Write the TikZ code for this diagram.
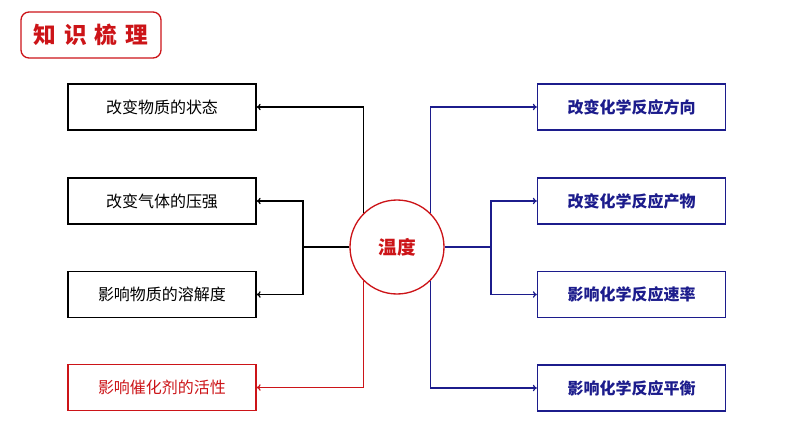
\documentclass[tikz,border=0pt]{standalone}
\usepackage{fontspec}
\newfontfamily\cjk{Noto Sans CJK SC}
\usetikzlibrary{arrows.meta}
\definecolor{hong}{RGB}{204,20,24}
\definecolor{lan}{RGB}{28,28,140}
\tikzset{every picture/.style={line width=0.9pt}}
\tikzset{
  kuang/.style={draw,line width=1pt,minimum width=141pt,minimum height=34.5pt,inner sep=0pt,font=\cjk\fontsize{12}{14}\selectfont},
  lankuang/.style={kuang,draw=lan,text=lan,font=\cjk\bfseries\fontsize{12}{14}\selectfont},
  jian/.style={-{To[length=3pt,width=5pt]}}
}

\begin{document}
\begin{tikzpicture}[x=0.75pt,y=0.75pt,yscale=-1,xscale=1]
\useasboundingbox (0,0) rectangle (794,447);

%Rounded Rect (title)
\node [draw=hong,line width=1pt,rounded corners=6pt,minimum width=105pt,minimum height=34.5pt,inner sep=0pt,text=hong,font=\cjk\bfseries\fontsize{17}{19}\selectfont] (biaoti) at (91,35) {知\hspace{6pt}识\hspace{6pt}梳\hspace{6pt}理};

%Circle
\node [draw=hong,circle,line width=1pt,minimum size=70.5pt,inner sep=0pt,text=hong,font=\cjk\bfseries\fontsize{14}{16}\selectfont] (wendu) at (397,247) {温度};

% Left boxes
\node [kuang] (b1) at (162,107) {改变物质的状态};
\node [kuang] (b2) at (162,201) {改变气体的压强};
\node [kuang] (b3) at (162,294.5) {影响物质的溶解度};
\node [kuang,draw=hong,text=hong] (b4) at (162,387.5) {影响催化剂的活性};

% Right boxes
\node [lankuang] (r1) at (631.5,107) {改变化学反应方向};
\node [lankuang] (r2) at (631.5,201) {改变化学反应产物};
\node [lankuang] (r3) at (631.5,294.5) {影响化学反应速率};
\node [lankuang] (r4) at (631.5,388) {影响化学反应平衡};

% Connection
\coordinate (zuo) at (303,247);
\coordinate (you) at (491,247);
\draw [jian] (wendu.135) |- (b1.east);
\draw (wendu.west) -- (zuo);
\draw [jian] (zuo) |- (b2.east);
\draw [jian] (zuo) |- (b3.east);
\draw [jian,color=hong] (wendu.225) |- (b4.east);
% Connection
\draw [jian,color=lan] (wendu.45) |- (r1.west);
\draw [color=lan] (wendu.east) -- (you);
\draw [jian,color=lan] (you) |- (r2.west);
\draw [jian,color=lan] (you) |- (r3.west);
\draw [jian,color=lan] (wendu.-45) |- (r4.west);

\end{tikzpicture}
\end{document}
